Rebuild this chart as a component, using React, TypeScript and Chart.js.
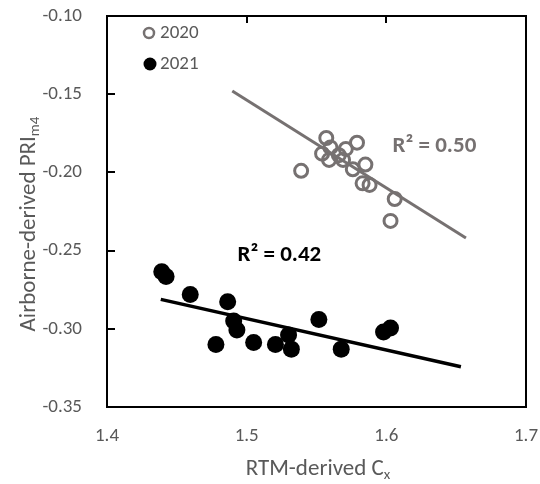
import React, { useEffect, useRef } from "react";
import { Chart, registerables } from "chart.js";
Chart.register(...registerables);

// ---- data ----
const x2020 = [1.539, 1.557, 1.579, 1.554, 1.560, 1.559, 1.566, 1.571, 1.569, 1.576, 1.585, 1.583, 1.588, 1.606, 1.603];
const y2020 = [-0.199, -0.178, -0.181, -0.188, -0.184, -0.192, -0.189, -0.185, -0.192, -0.198, -0.195, -0.207, -0.208, -0.217, -0.231];
const x2021 = [1.4392, 1.4423, 1.4596, 1.4864, 1.4907, 1.493, 1.478, 1.505, 1.5206, 1.530, 1.532, 1.5517, 1.5677, 1.598, 1.603];
const y2021 = [-0.2635, -0.2665, -0.278, -0.2827, -0.295, -0.3008, -0.310, -0.3087, -0.310, -0.304, -0.313, -0.294, -0.313, -0.302, -0.2995];
const trendX2020 = [1.4897, 1.657];
const trendY2020 = [-0.148, -0.242];
const trendX2021 = [1.4385, 1.6534];
const trendY2021 = [-0.2812, -0.3243];
const seriesLabels = ["2020", "2021"];
const r2Labels = ["R² = 0.50", "R² = 0.42"];
const xTitle = ["RTM-derived C", "x"];
const yTitle = ["Airborne-derived PRI", "m4"];

const FONT = "Carlito, Lato, 'Liberation Sans', sans-serif";
const GRAY = "#767171";
const TEXT = "#595959";

export default function App() {
  const ref = useRef<HTMLCanvasElement>(null);
  useEffect(() => {
    const canvas = ref.current!;
    const deco = {
      id: "deco",
      afterDatasetsDraw(chart: any) {
        const { ctx, chartArea: a, scales } = chart;
        const xs = scales.x, ys = scales.y;
        ctx.save();
        // box
        ctx.strokeStyle = "#000";
        ctx.lineWidth = 2;
        ctx.strokeRect(a.left, a.top, a.right - a.left, a.bottom - a.top);
        // inward ticks
        ctx.beginPath();
        [-0.15, -0.2, -0.25, -0.3].forEach((v) => {
          const y = Math.round(ys.getPixelForValue(v));
          ctx.moveTo(a.left, y);
          ctx.lineTo(a.left + 8, y);
        });
        [1.5, 1.6].forEach((v) => {
          const x = Math.round(xs.getPixelForValue(v));
          ctx.moveTo(x, a.top);
          ctx.lineTo(x, a.top + 7);
        });
        ctx.stroke();

        // R² labels
        ctx.font = `bold 23px ${FONT}`;
        ctx.textBaseline = "middle";
        ctx.textAlign = "left";
        ctx.fillStyle = GRAY;
        ctx.fillText(r2Labels[0], xs.getPixelForValue(1.6045), ys.getPixelForValue(-0.1835));
        ctx.fillStyle = "#000";
        ctx.fillText(r2Labels[1], xs.getPixelForValue(1.4935), ys.getPixelForValue(-0.2528));

        // legend
        ctx.font = `19px ${FONT}`;
        ctx.fillStyle = TEXT;
        ctx.fillText(seriesLabels[0], 160, 33);
        ctx.fillText(seriesLabels[1], 160, 64);
        ctx.beginPath();
        ctx.arc(149, 33, 5, 0, Math.PI * 2);
        ctx.strokeStyle = GRAY;
        ctx.lineWidth = 2.5;
        ctx.stroke();
        ctx.beginPath();
        ctx.arc(150, 64, 6.5, 0, Math.PI * 2);
        ctx.fillStyle = "#000";
        ctx.fill();

        // axis titles with subscripts
        const main = 23, sub = 15;
        ctx.fillStyle = TEXT;
        // x title
        ctx.font = `${main}px ${FONT}`;
        const w1 = ctx.measureText(xTitle[0]).width;
        ctx.font = `${sub}px ${FONT}`;
        const w2 = ctx.measureText(xTitle[1]).width;
        let sx = 318 - (w1 + w2) / 2;
        ctx.textBaseline = "alphabetic";
        ctx.font = `${main}px ${FONT}`;
        ctx.fillText(xTitle[0], sx, 475);
        ctx.font = `${sub}px ${FONT}`;
        ctx.fillText(xTitle[1], sx + w1, 479);
        // y title
        ctx.save();
        ctx.translate(35, 224);
        ctx.rotate(-Math.PI / 2);
        ctx.font = `${main}px ${FONT}`;
        const v1 = ctx.measureText(yTitle[0]).width;
        ctx.font = `${sub}px ${FONT}`;
        const v2 = ctx.measureText(yTitle[1]).width;
        sx = -(v1 + v2) / 2;
        ctx.font = `${main}px ${FONT}`;
        ctx.fillText(yTitle[0], sx, 0);
        ctx.font = `${sub}px ${FONT}`;
        ctx.fillText(yTitle[1], sx + v1, 4);
        ctx.restore();
        ctx.restore();
      },
    };

    const chart = new Chart(canvas, {
      type: "scatter",
      data: {
        datasets: [
          {
            type: "line",
            label: "trend2020",
            data: trendX2020.map((x, i) => ({ x, y: trendY2020[i] })),
            borderColor: GRAY,
            borderWidth: 3,
            pointRadius: 0,
            showLine: true,
            fill: false,
          } as any,
          {
            type: "line",
            label: "trend2021",
            data: trendX2021.map((x, i) => ({ x, y: trendY2021[i] })),
            borderColor: "#000",
            borderWidth: 3.5,
            pointRadius: 0,
            showLine: true,
            fill: false,
          } as any,
          {
            label: seriesLabels[0],
            data: x2020.map((x, i) => ({ x, y: y2020[i] })),
            pointRadius: 6.5,
            pointBorderWidth: 3,
            borderColor: GRAY,
            backgroundColor: "rgba(0,0,0,0)",
          },
          {
            label: seriesLabels[1],
            data: x2021.map((x, i) => ({ x, y: y2021[i] })),
            pointRadius: 8.5,
            pointBorderWidth: 0,
            borderColor: "#000",
            backgroundColor: "#000",
          },
        ],
      },
      options: {
        responsive: false,
        animation: false,
        layout: { padding: { left: 0, top: 16, right: 14, bottom: 0 } },
        plugins: { legend: { display: false }, tooltip: { enabled: false } },
        scales: {
          x: {
            type: "linear",
            min: 1.4,
            max: 1.7,
            grid: { display: false, drawTicks: true, tickLength: 18 },
            border: { display: false },
            ticks: {
              stepSize: 0.1,
              padding: 0,
              color: TEXT,
              font: { family: FONT, size: 19 },
              callback: (v: any) => Number(v).toFixed(1),
            },
            afterFit: (s: any) => { s.height = 77; },
          },
          y: {
            type: "linear",
            min: -0.35,
            max: -0.1,
            grid: { display: false, drawTicks: true, tickLength: 25 },
            border: { display: false },
            ticks: {
              stepSize: 0.05,
              padding: 0,
              color: TEXT,
              font: { family: FONT, size: 19 },
              callback: (v: any) => Number(v).toFixed(2),
            },
            afterFit: (s: any) => { s.width = 107; },
          },
        },
      },
      plugins: [deco],
    });
    return () => chart.destroy();
  }, []);
  return (
    <canvas
      ref={ref}
      width={540}
      height={484}
      style={{ position: "absolute", left: 0, top: 0, width: 540, height: 484 }}
    />
  );
}
